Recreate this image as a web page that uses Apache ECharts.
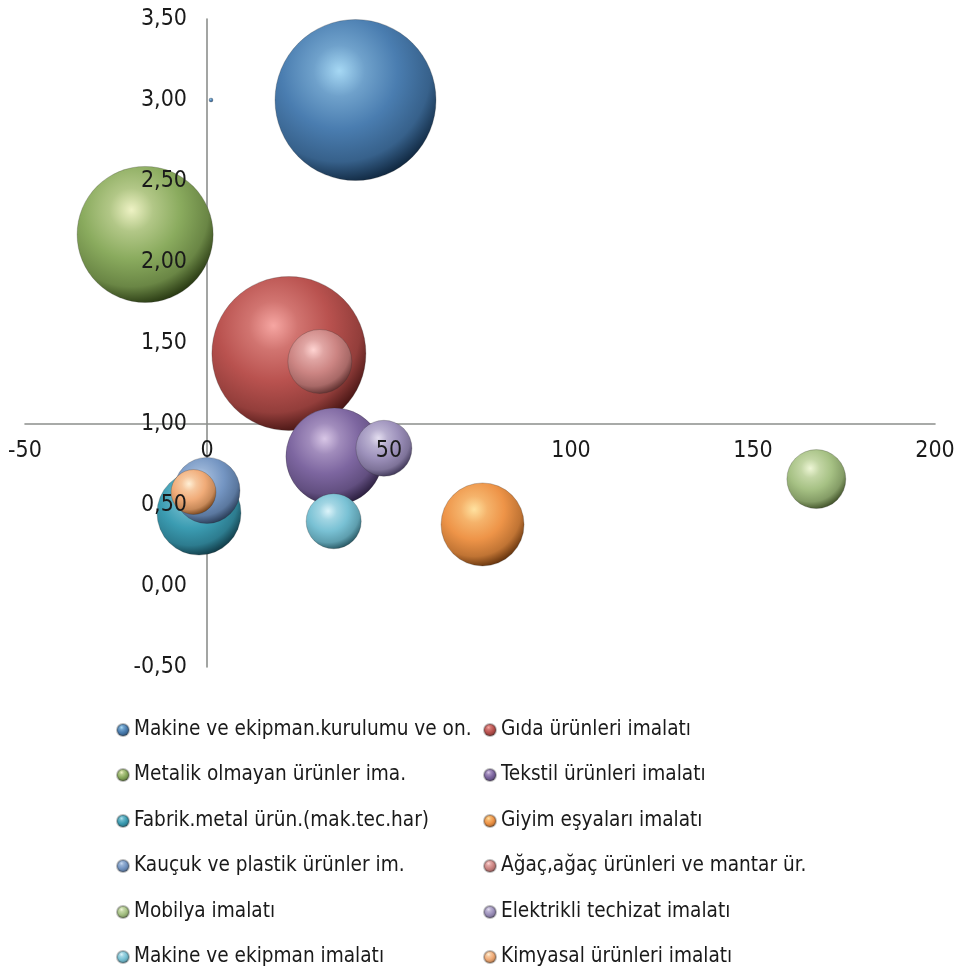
<!DOCTYPE html>
<html><head><meta charset="utf-8">
<script src="https://cdn.jsdelivr.net/npm/echarts@6/dist/echarts.min.js"></script>
<style>html,body{margin:0;padding:0;background:#fff}#c{width:955px;height:971px}</style>
</head><body><div id="c"></div>
<script>
// ---- data ----
const names = [
  'Makine ve ekipman.kurulumu ve on.', 'Gıda ürünleri imalatı',
  'Metalik olmayan ürünler ima.', 'Tekstil ürünleri imalatı',
  'Fabrik.metal ürün.(mak.tec.har)', 'Giyim eşyaları imalatı',
  'Kauçuk ve plastik ürünler im.', 'Ağaç,ağaç ürünleri ve mantar ür.',
  'Mobilya imalatı', 'Elektrikli techizat imalatı',
  'Makine ve ekipman imalatı', 'Kimyasal ürünleri imalatı'
];
const xValues = [40.8, 22.5, -17.0, 35.0, -2.2, 75.7, 0.0, 31.0, 167.4, 48.6, 34.8, -3.7];
const yValues = [3.00, 1.435, 2.17, 0.80, 0.45, 0.38, 0.59, 1.386, 0.66, 0.85, 0.40, 0.58];
const sizeValues = [1000, 915, 714, 363, 272, 266, 168, 158, 134, 121, 117, 78];
// extra tiny point belonging to the first series
const extraX = [1.1];
const extraY = [3.0];
const extraSize = [0.6];
const xTicks = [-50, 0, 50, 100, 150, 200];
const yTicks = ['-0,50','0,00','0,50','1,00','1,50','2,00','2,50','3,00','3,50'];

// ---- styles ----
const palette = [
  ['#a6d8f4', '#4a7db0', '#0b2036'],
  ['#f6a6a2', '#b9524f', '#3a0e0d'],
  ['#eef2c4', '#8aab5e', '#1f2e0b'],
  ['#d8c6e6', '#7d66a0', '#241836'],
  ['#aee0ec', '#3b9cb2', '#0c313c'],
  ['#ffe2a0', '#ee9448', '#552806'],
  ['#c6d8f0', '#7495c2', '#22334c'],
  ['#ffd4d2', '#cc8583', '#552827'],
  ['#eef6d6', '#a6c184', '#35451f'],
  ['#e4def0', '#9d91bb', '#342c4b'],
  ['#dcf4fa', '#79c1d4', '#1f4b56'],
  ['#fff0d6', '#f0ab78', '#663812']
];
function hex2rgb(h){ return [1,3,5].map(k=>parseInt(h.substr(k,2),16)); }
function mix(a,b,t){ const A=hex2rgb(a),B=hex2rgb(b); return 'rgb('+A.map((v,i)=>Math.round(v+(B[i]-v)*t)).join(',')+')'; }
function grad(p){
  return {type:'radial', x:0.4, y:0.32, r:0.72, colorStops:[
    {offset:0, color:p[0]}, {offset:0.22, color:mix(p[0],p[1],0.6)}, {offset:0.5, color:p[1]},
    {offset:0.78, color:mix(p[1],p[2],0.3)}, {offset:1, color:p[2]}
  ]};
}
const MAXR = 80.5;
const maxSize = Math.max(...sizeValues);

// pick a condensed font if available
function pickFont(){
  const cv = document.createElement('canvas').getContext('2d');
  const s = 'Makine ve ekipman.kurulumu ve on.';
  const cands = ['Liberation Sans Narrow','DejaVu Sans Condensed','Roboto Condensed','Roboto','Noto Sans'];
  for (const f of cands){
    cv.font = '24px monospace'; const a = cv.measureText(s).width;
    cv.font = "24px '" + f + "', monospace"; const b = cv.measureText(s).width;
    if (Math.abs(a-b) > 0.5){
      let size = 24 * 338 / b; size = Math.max(16, Math.min(25, size));
      return {family:"'" + f + "'", size: Math.round(size*10)/10};
    }
  }
  return {family:'sans-serif', size:20};
}
const F = pickFont();

const series = names.map((n,i)=>{
  const data = [[xValues[i], yValues[i], sizeValues[i]]];
  if (i === 0) for (let k=0;k<extraX.length;k++) data.push([extraX[k], extraY[k], extraSize[k]]);
  return {
    name:n, type:'scatter', data, clip:false, z:2,
    symbolSize: d => 2*MAXR*Math.sqrt(d[2]/maxSize),
    itemStyle:{color:grad(palette[i]), borderColor:'rgba(40,40,40,0.3)', borderWidth:0.8, opacity:1},
    emphasis:{disabled:true}
  };
});

// grid geometry (pixels)
const G = {left:25, right:20, top:19, bottom:304};
const plotH = 971 - G.top - G.bottom;
const yCrossPx = G.top + plotH * (3.5 - 1.0) / 4;   // pixel row of y = 1
const xZeroPx = G.left + (955 - G.left - G.right) * 50 / 250; // pixel col of x = 0

const legendText = {fontFamily:F.family, fontSize:F.size, color:'#1a1a1a', lineHeight:22};
const legends = names.map((n,i)=>({
  orient:'horizontal', left: (i%2===0 ? 116 : 483), top: Math.round(719 + 45.4*Math.floor(i/2)),
  padding:0, itemWidth:12, itemHeight:12, icon:'circle', data:[n],
  textStyle:legendText, selectedMode:false
}));

const lineStyle = {color:'#8c8f8c', width:1.6};
const chart = echarts.init(document.getElementById('c'), null, {renderer:'canvas'});
chart.setOption({
  animation:false,
  backgroundColor:'#fff',
  grid:{left:G.left, right:G.right, top:G.top, bottom:G.bottom, containLabel:false, outerBoundsMode:'none'},
  xAxis:[
    // axis line (behind bubbles), crossing at y = 1
    {type:'value', min:-50, max:200, interval:50, position:'bottom', z:0,
     axisLine:{onZero:true, onZeroAxisIndex:1, lineStyle}, axisTick:{show:false}, splitLine:{show:false},
     axisLabel:{show:false}},
    // labels (on top of bubbles)
    {type:'value', min:-50, max:200, interval:50, position:'bottom', z:10,
     axisLine:{show:false, onZero:false}, axisTick:{show:false}, splitLine:{show:false},
     axisLabel:{margin: -(971 - G.bottom - yCrossPx) + 16, color:'#1a1a1a', fontFamily:F.family, fontSize:23,
       formatter:v=> xTicks.includes(v) ? String(v) : ''}}
  ],
  yAxis:[
    {type:'value', min:-0.5, max:3.5, interval:0.5, position:'left', z:0,
     axisLine:{show:true, onZero:true, onZeroAxisIndex:0, lineStyle}, axisTick:{show:false}, splitLine:{show:false},
     axisLabel:{show:false}},
    {type:'value', min:-1.5, max:2.5, interval:0.5, show:false},
    {type:'value', min:-0.5, max:3.5, interval:0.5, position:'left', offset:0, z:10,
     axisLine:{show:false, onZero:false}, axisTick:{show:false}, splitLine:{show:false},
     axisLabel:{margin: -(xZeroPx - G.left) + 20, color:'#1a1a1a', fontFamily:F.family, fontSize:23,
       padding:[4,0,0,0],
       formatter:v=>{ const s=v.toFixed(2).replace('.',','); return yTicks.includes(s)?s:''; }}}
  ],
  legend:legends,
  series
});
</script></body></html>
